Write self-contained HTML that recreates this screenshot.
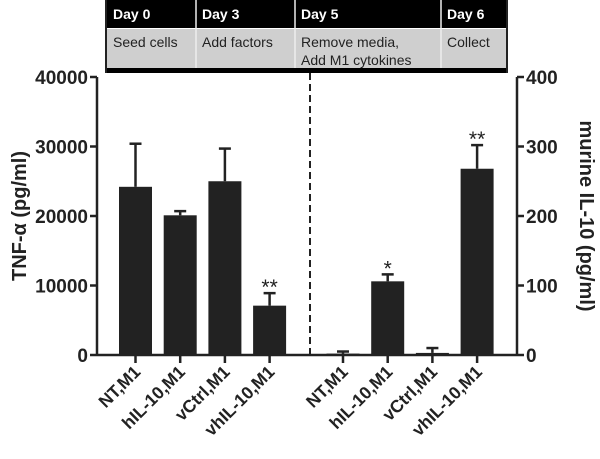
<!DOCTYPE html>
<html><head><meta charset="utf-8"><style>
body{margin:0;background:#fff;}
svg{display:block;font-family:"Liberation Sans",Arial,sans-serif;}
</style></head><body>
<svg id="chart" width="600" height="459">
<g id="table"></g>
<g id="marks"></g>
</svg>
<script>
const leftCategories=["NT,M1","hIL-10,M1","vCtrl,M1","vhIL-10,M1"];
const leftValues=[24200,20100,25000,7100];
const leftErrors=[30400,20700,29700,8900];
const leftSig=["","","","**"];
const rightCategories=["NT,M1","hIL-10,M1","vCtrl,M1","vhIL-10,M1"];
const rightValues=[2,106,3,268];
const rightErrors=[5,116,10,302];
const rightSig=["","*","","**"];
const leftTicks=[0,10000,20000,30000,40000];
const rightTicks=[0,100,200,300,400];
const days=["Day 0","Day 3","Day 5","Day 6"];
const steps=[["Seed cells"],["Add factors"],["Remove media,","Add M1 cytokines"],["Collect"]];

const NS="http://www.w3.org/2000/svg";
const marks=document.getElementById('marks');
const tbl=document.getElementById('table');
function mk(tag,at,parent){const e=document.createElementNS(NS,tag);for(const k in at)e.setAttribute(k,at[k]);(parent||marks).appendChild(e);return e;}
const y0=355,yTop=77;
const yL=v=>y0-(v/40000)*(y0-yTop);
const yR=v=>y0-(v/400)*(y0-yTop);
const axL=97,axR=517;
const xL=i=>135.5+i*44.7;
const xR=i=>343+i*44.7;
const bw=33;

const colX=[107,196,295,441,506];
let r=mk('rect',{x:107,y:0,width:399,height:28,fill:'#000'},tbl);

r=mk('rect',{x:107,y:29,width:399,height:40,fill:'#cfcfcf'},tbl);

mk('rect',{x:107,y:68,width:399,height:5,fill:'#000'},tbl);
mk('rect',{x:105,y:0,width:2,height:73,fill:'#222'},tbl);
mk('rect',{x:506,y:0,width:2,height:73,fill:'#222'},tbl);
for(let i=1;i<4;i++)mk('line',{x1:colX[i],y1:0,x2:colX[i],y2:68,stroke:'#eee','stroke-width':1.5},tbl);
days.forEach((d,i)=>{
  const t=mk('text',{x:colX[i]+6,y:19,fill:'#fff','font-size':14,'font-weight':'bold'},tbl);t.textContent=d;
  
  steps[i].forEach((s,j)=>{const u=mk('text',{x:colX[i]+6,y:47+j*18,fill:'#222','font-size':14},tbl);u.textContent=s;
  });
});

let dl=mk('line',{x1:310,y1:73,x2:310,y2:y0,stroke:'#222','stroke-width':2,'stroke-dasharray':'7,4'});


mk('line',{x1:axL,y1:yTop,x2:axL,y2:y0+1,stroke:'#222','stroke-width':2.5});
mk('line',{x1:axR,y1:yTop,x2:axR,y2:y0+1,stroke:'#222','stroke-width':2.5});
let xa=mk('line',{x1:axL,y1:y0,x2:axR,y2:y0,stroke:'#222','stroke-width':2.5});

leftTicks.forEach(v=>{const y=yL(v);mk('line',{x1:axL-7,y1:y,x2:axL,y2:y,stroke:'#222','stroke-width':2.5});
  const t=mk('text',{x:axL-9,y:y+7,'text-anchor':'end','font-size':19,'font-weight':'bold',fill:'#222'});t.textContent=v;
  });
rightTicks.forEach(v=>{const y=yR(v);mk('line',{x1:axR,y1:y,x2:axR+7,y2:y,stroke:'#222','stroke-width':2.5});
  const t=mk('text',{x:axR+9,y:y+7,'font-size':19,'font-weight':'bold',fill:'#222'});t.textContent=v;
  });
let yt=mk('text',{transform:'translate(26,216) rotate(-90)','text-anchor':'middle','font-size':20,'font-weight':'bold',fill:'#222'});
yt.textContent='TNF-α (pg/ml)';

let yt2=mk('text',{transform:'translate(580,216) rotate(90)','text-anchor':'middle','font-size':20,'font-weight':'bold',fill:'#222'});
yt2.textContent='murine IL-10 (pg/ml)';


function drawBars(cats,vals,errs,sig,xf,yf,prefix){
  cats.forEach((c,i)=>{
    const cx=xf(i),top=yf(vals[i]),et=yf(errs[i]);
    const el=mk('line',{x1:cx,y1:et,x2:cx,y2:top,stroke:'#222','stroke-width':2.5});
    
    mk('line',{x1:cx-6,y1:et,x2:cx+6,y2:et,stroke:'#222','stroke-width':2.5});
    const b=mk('rect',{x:cx-bw/2,y:top,width:bw,height:Math.max(y0-top,0.5),fill:'#222'});
    
    if(sig[i]){const s=mk('text',{x:cx,y:et+1,'text-anchor':'middle','font-size':21,fill:'#222'});s.textContent=sig[i];
      }
    mk('line',{x1:cx,y1:y0,x2:cx,y2:y0+8,stroke:'#222','stroke-width':2.5});
    const t=mk('text',{transform:`translate(${cx+6},${y0+18}) rotate(-45)`,'text-anchor':'end','font-size':17.5,'font-weight':'bold',fill:'#222'});
    t.textContent=c;
    
  });
}
drawBars(leftCategories,leftValues,leftErrors,leftSig,xL,yL,'tnf');
drawBars(rightCategories,rightValues,rightErrors,rightSig,xR,yR,'il10');
</script>
</body></html>
